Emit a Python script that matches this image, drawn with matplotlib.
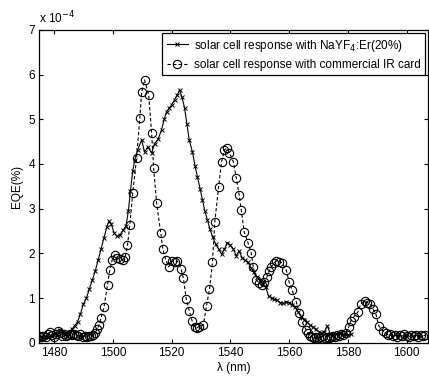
import matplotlib
matplotlib.use("Agg")
import matplotlib.pyplot as plt

plt.rcParams['font.family'] = ['Liberation Sans', 'DejaVu Sans']

# EQE de la celda con NaYF4:Er(20%) (unidades de 1e-4 %)
lam_nayf = [1475, 1476, 1477, 1478, 1479, 1480, 1481, 1482, 1483, 1484,
            1485, 1486, 1487, 1488, 1489, 1490, 1491, 1492, 1493, 1494,
            1495, 1496, 1497, 1498, 1498.7, 1499.5, 1500.5, 1501.5, 1502.5, 1503.5,
            1504.5, 1505.3, 1506, 1506.8, 1507.5, 1508.5, 1509.8, 1510.8, 1511.9, 1513.2,
            1514.2, 1515.4, 1516.6, 1517.5, 1518.3, 1519.2, 1520, 1521, 1522, 1522.7,
            1523.5, 1524.4, 1525.2, 1526, 1527.1, 1528, 1528.8, 1529.7, 1530.5, 1531.3,
            1532.2, 1533, 1534, 1535, 1536, 1537, 1538, 1539, 1540, 1541,
            1542, 1543, 1544, 1545, 1546, 1547, 1548, 1549, 1550, 1551,
            1552, 1553, 1554, 1555, 1556, 1557, 1558, 1559, 1560, 1561,
            1562, 1563, 1564, 1565, 1566, 1567, 1568, 1569, 1570, 1571,
            1572, 1573, 1574, 1575, 1576, 1577, 1578, 1579, 1580, 1581]
eqe_nayf = [0.15, 0.12, 0.14, 0.12, 0.15, 0.18, 0.20, 0.28, 0.25, 0.20,
            0.18, 0.30, 0.38, 0.47, 0.65, 0.87, 1.00, 1.20, 1.40, 1.60,
            1.85, 2.10, 2.35, 2.60, 2.72, 2.65, 2.45, 2.38, 2.42, 2.52,
            2.62, 2.95, 3.40, 3.85, 4.10, 4.32, 4.54, 4.27, 4.38, 4.25,
            4.45, 4.55, 4.77, 5.00, 5.17, 5.25, 5.32, 5.44, 5.55, 5.66,
            5.50, 5.26, 4.90, 4.54, 4.27, 3.95, 3.71, 3.45, 3.20, 2.95,
            2.75, 2.55, 2.37, 2.20, 2.10, 1.98, 2.10, 2.24, 2.18, 2.10,
            1.95, 2.05, 1.90, 1.85, 1.80, 1.68, 1.58, 1.48, 1.40, 1.32,
            1.25, 1.05, 1.00, 0.97, 0.95, 0.90, 0.88, 0.92, 0.90, 0.85,
            0.80, 0.70, 0.60, 0.52, 0.47, 0.40, 0.36, 0.30, 0.25, 0.22,
            0.25, 0.38, 0.20, 0.18, 0.20, 0.22, 0.18, 0.20, 0.18, 0.20]

# EQE con la tarjeta IR comercial
lam_ir = [1475, 1475.7, 1476.4, 1477.1, 1477.8, 1478.5, 1479.2, 1479.9, 1480.6, 1481.3,
          1482, 1482.7, 1483.4, 1484.1, 1484.8, 1485.5, 1486.2, 1486.9, 1487.6, 1488.3,
          1489, 1489.7, 1490.4, 1491.1, 1491.8, 1492.5, 1493.2, 1493.9, 1494.6, 1495.3,
          1496, 1497, 1498.2, 1499, 1499.8, 1500.6, 1501.4, 1502.4, 1503.4, 1504.2,
          1505, 1505.8, 1506.8, 1508.1, 1509.2, 1509.8, 1510.8, 1512.2, 1513.2, 1513.9,
          1514.9, 1516.3, 1517, 1518, 1519, 1520.3, 1521.2, 1522, 1523.2, 1524,
          1525, 1526, 1527, 1527.8, 1528.5, 1529.2, 1530.8, 1531.9, 1532.9, 1533.9,
          1534.7, 1536, 1537, 1538, 1538.8, 1539.7, 1541, 1542, 1543, 1543.7,
          1544.7, 1546, 1547.1, 1547.8, 1548.8, 1549.8, 1550.8, 1551.5, 1552.5, 1553.2,
          1553.9, 1554.9, 1555.7, 1556.6, 1557.6, 1559, 1560, 1561, 1562.4, 1563.4,
          1564.4, 1565.8, 1566.5, 1567.2, 1567.9, 1568.6, 1569.3, 1570, 1570.7, 1571.4,
          1572.1, 1572.8, 1573.5, 1574.2, 1574.9, 1575.6, 1576.3, 1577, 1577.7, 1578.4,
          1579.3, 1580.3, 1581, 1582, 1583.4, 1584.4, 1585.8, 1586.6, 1587.5, 1588.5,
          1589.5, 1590.5, 1591.9, 1592.8, 1593.6, 1594.4, 1595.2, 1596, 1596.8, 1597.6,
          1598.4, 1599.2, 1600, 1600.8, 1601.6, 1602.4, 1603.2, 1604, 1604.8, 1605.6,
          1606.4]
eqe_ir = [0.15, 0.13, 0.16, 0.14, 0.20, 0.24, 0.18, 0.14, 0.20, 0.26,
          0.22, 0.16, 0.20, 0.15, 0.18, 0.20, 0.17, 0.20, 0.18, 0.16,
          0.19, 0.14, 0.15, 0.13, 0.16, 0.15, 0.18, 0.22, 0.30, 0.40,
          0.56, 0.80, 1.29, 1.63, 1.86, 1.97, 1.90, 1.88, 1.86, 1.92,
          2.19, 2.64, 3.36, 4.14, 5.03, 5.60, 5.88, 5.55, 4.70, 3.91,
          3.13, 2.46, 2.10, 1.86, 1.70, 1.83, 1.80, 1.83, 1.66, 1.45,
          0.98, 0.72, 0.49, 0.36, 0.33, 0.36, 0.40, 0.83, 1.20, 1.80,
          2.70, 3.49, 4.05, 4.32, 4.35, 4.25, 4.05, 3.69, 3.31, 2.98,
          2.48, 2.24, 2.01, 1.70, 1.41, 1.34, 1.30, 1.35, 1.48, 1.60,
          1.70, 1.79, 1.83, 1.81, 1.79, 1.63, 1.36, 1.18, 0.92, 0.67,
          0.47, 0.29, 0.22, 0.16, 0.12, 0.10, 0.14, 0.10, 0.12, 0.15,
          0.11, 0.14, 0.10, 0.13, 0.16, 0.12, 0.18, 0.15, 0.20, 0.17,
          0.22, 0.36, 0.49, 0.58, 0.69, 0.87, 0.94, 0.90, 0.87, 0.76,
          0.65, 0.38, 0.27, 0.22, 0.18, 0.20, 0.16, 0.18, 0.14, 0.17,
          0.15, 0.19, 0.16, 0.13, 0.18, 0.15, 0.17, 0.14, 0.18, 0.16,
          0.17]

xticks = [1480, 1500, 1520, 1540, 1560, 1580, 1600]
yticks = [0, 1, 2, 3, 4, 5, 6, 7]

fig = plt.figure(figsize=(4.29, 3.78), dpi=100)
ax = fig.add_axes([0.091, 0.093, 0.907, 0.828])

ax.plot(lam_nayf, eqe_nayf, color='black', lw=0.8, marker='x', ms=2.5, mew=0.7,
        label='solar cell response with NaYF$_4$:Er(20%)')
ax.plot(lam_ir, eqe_ir, color='black', lw=0.8, ls=(0, (3, 2)), marker='o', ms=6,
        mfc='none', mew=0.8, label='solar cell response with commercial IR card')

ax.set_xlim(1474.9, 1607.3)
ax.set_ylim(0, 7)
ax.set_xticks(xticks)
ax.set_yticks(yticks)
ax.tick_params(direction='in', top=True, right=True, length=3, labelsize=8.5, pad=3)
for s in ax.spines.values():
    s.set_linewidth(0.9)

ax.set_xlabel('λ (nm)', fontsize=8.5, labelpad=2)
ax.set_ylabel('EQE(%)', fontsize=8.5, labelpad=4)
ax.text(0.0, 1.012, 'x 10$^{-4}$', transform=ax.transAxes, fontsize=8.5,
        ha='left', va='bottom')

leg = ax.legend(loc='upper right', fontsize=8.5, handlelength=1.8, handletextpad=0.5,
                borderaxespad=0.3, fancybox=False, edgecolor='black', framealpha=1,
                borderpad=0.35, labelspacing=0.45)
leg.get_frame().set_linewidth(0.9)

fig.savefig('out.png', dpi=100)
